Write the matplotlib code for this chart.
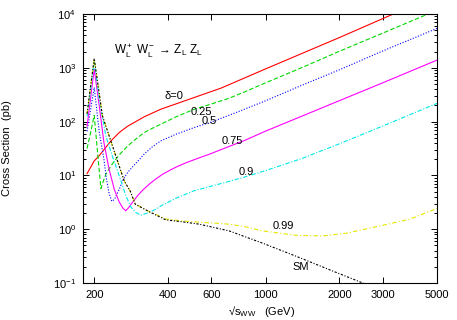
import matplotlib
matplotlib.use("Agg")
import matplotlib.pyplot as plt
from matplotlib.ticker import LogLocator, FixedLocator, FixedFormatter, NullLocator

plt.rcParams['font.family'] = ['Liberation Sans', 'DejaVu Sans']
plt.rcParams['mathtext.fontset'] = 'custom'
plt.rcParams['mathtext.rm'] = 'Liberation Sans'
plt.rcParams['mathtext.it'] = 'Liberation Sans:italic'

# values (sqrt(s) in GeV, cross section in pb)
x_d0 = [187, 200, 209.6, 234, 253, 273.6, 320, 374, 512, 657, 1000, 2000, 3350]
y_d0 = [10.8, 18.6, 23.2, 43.8, 62.7, 82, 123, 170, 281, 418, 955, 3650, 10200]

x_d25 = [187, 193, 200, 206.3, 213, 216, 223, 234, 245, 255, 274, 295, 320, 345, 374, 430,
         512, 600, 710, 819, 1000, 1400, 2000, 3000, 4600]
y_d25 = [31.6, 60, 131, 27, 5.7, 7.0, 10.5, 15, 20, 25, 35.3, 47, 62.7, 75, 89.5, 122,
         170, 212, 272, 355, 526, 1000, 2030, 4400, 10000]

x_d50 = [187, 193, 200, 209.6, 219, 224.5, 230, 236, 242, 253, 261, 273.6, 287, 305, 320, 345,
         374, 430, 512, 600, 700, 820, 1000, 1400, 2000, 3000, 5000]
y_d50 = [66, 160, 430, 65, 20, 8.5, 4.6, 3.3, 3.6, 5.5, 8.0, 11.3, 14.5, 19.5, 25, 34,
         43.8, 58, 77.7, 98, 128, 170, 244, 470, 918, 2050, 5400]

x_d75 = [187, 193, 200, 209.6, 219, 230, 241.5, 253, 262, 269, 276, 287, 300, 315, 335, 357,
         380, 410, 440, 480, 536, 600, 700, 820, 1000, 2000, 3000, 5000]
y_d75 = [82, 260, 940, 200, 41, 13, 5.5, 3.2, 2.45, 2.2, 2.5, 3.2, 4.15, 5.3, 6.86, 8.6,
         10.5, 12.7, 14.9, 17.6, 21.2, 25.5, 33.7, 44.5, 66.6, 245, 525, 1390]

x_d90 = [187, 193, 200, 209.6, 223, 237, 253, 269.5, 282, 295, 310, 330, 357, 374, 435, 512,
         600, 700, 819, 1000, 1200, 1400, 2000, 3000, 5000]
y_d90 = [126, 380, 1320, 260, 54, 23, 9.8, 4.16, 2.6, 2.05, 1.82, 2.0, 2.35, 2.71, 3.84, 5.2,
         6.3, 7.6, 9.3, 12.3, 16.2, 20.5, 38.7, 82.5, 218]

x_d99 = [187, 193, 200, 216, 245, 265, 280.5, 294, 333, 392, 459, 536, 598, 710, 819, 972,
         1330, 1708, 2128, 2920, 3860, 5000]
y_d99 = [138, 420, 1450, 128, 23, 7.9, 5.1, 2.92, 2.15, 1.55, 1.42, 1.35, 1.31, 1.24, 1.12, 0.93,
         0.77, 0.75, 0.84, 1.15, 1.53, 2.43]

x_sm = [187, 193, 200, 216, 245, 265, 280.5, 294, 333, 392, 459, 536, 710, 972, 1330, 1813,
        2490, 2700]
y_sm = [140, 430, 1490, 128, 23, 7.9, 5.1, 2.92, 2.15, 1.49, 1.37, 1.24, 0.93, 0.55, 0.315, 0.178,
        0.1, 0.086]

x_ticks = [200, 400, 600, 1000, 2000, 3000, 5000]
x_ticklabels = ['200', '400', '600', '1000', '2000', '3000', '5000']

fig = plt.figure(figsize=(4.57, 3.2), dpi=100)
ax = fig.add_axes([83/457, 1-283/320, 354/457, 269/320])

lw = 0.8
ax.plot(x_d0, y_d0, color='#ff0000', lw=lw, ls='-')
ax.plot(x_d25, y_d25, color='#00d800', lw=lw, ls=(0, (4, 2)))
ax.plot(x_d50, y_d50, color='#0000ff', lw=lw, ls=(0, (1, 1.5)))
ax.plot(x_d75, y_d75, color='#ff00ff', lw=lw, ls='-')
ax.plot(x_d90, y_d90, color='#00e8e8', lw=lw, ls=(0, (4, 1.5, 1, 1.5)))
ax.plot(x_d99, y_d99, color='#e6e600', lw=lw, ls=(0, (4, 2, 1, 2)))
ax.plot(x_sm, y_sm, color='black', lw=lw, ls=(0, (2, 1.5, 1, 1.5)))

ax.set_xscale('log')
ax.set_yscale('log')
ax.set_xlim(180, 5000)
ax.set_ylim(0.1, 1e4)

ax.xaxis.set_major_locator(FixedLocator(x_ticks))
ax.xaxis.set_major_formatter(FixedFormatter(x_ticklabels))
ax.xaxis.set_minor_locator(NullLocator())
ax.yaxis.set_major_locator(LogLocator(base=10, numticks=10))
ax.yaxis.set_minor_locator(LogLocator(base=10, subs=range(2, 10), numticks=20))

ax.tick_params(which='both', direction='in', top=True, right=True, labelsize=8, width=0.7)
ax.tick_params(which='major', length=4.5, pad=5)
ax.tick_params(which='minor', length=2.5)
for s in ax.spines.values():
    s.set_linewidth(0.8)

ax.set_ylabel('Cross Section  (pb)', fontsize=8)
ax.yaxis.set_label_coords((12-83)/354, 0.5)
ax.set_xlabel('√s$\\mathregular{_{WW}}$   (GeV)', fontsize=8)
ax.xaxis.set_label_coords((262-83)/354, (283-304)/269)


def put(px, py, s, size=8):
    ax.text((px-83)/354, (283-py)/269, s, transform=ax.transAxes,
            ha='center', va='center', fontsize=size)


put(158, 51, 'W$\\mathregular{_L^+}$ W$\\mathregular{_L^-}$ → Z$\\mathregular{_L}$ Z$\\mathregular{_L}$', 8.5)
put(174, 96, 'δ=0')
put(201, 112, '0.25')
put(209, 121, '0.5')
put(232, 141, '0.75')
put(246, 172, '0.9')
put(283, 226, '0.99')
put(301, 267, 'SM')

fig.savefig('out.png', dpi=100)
